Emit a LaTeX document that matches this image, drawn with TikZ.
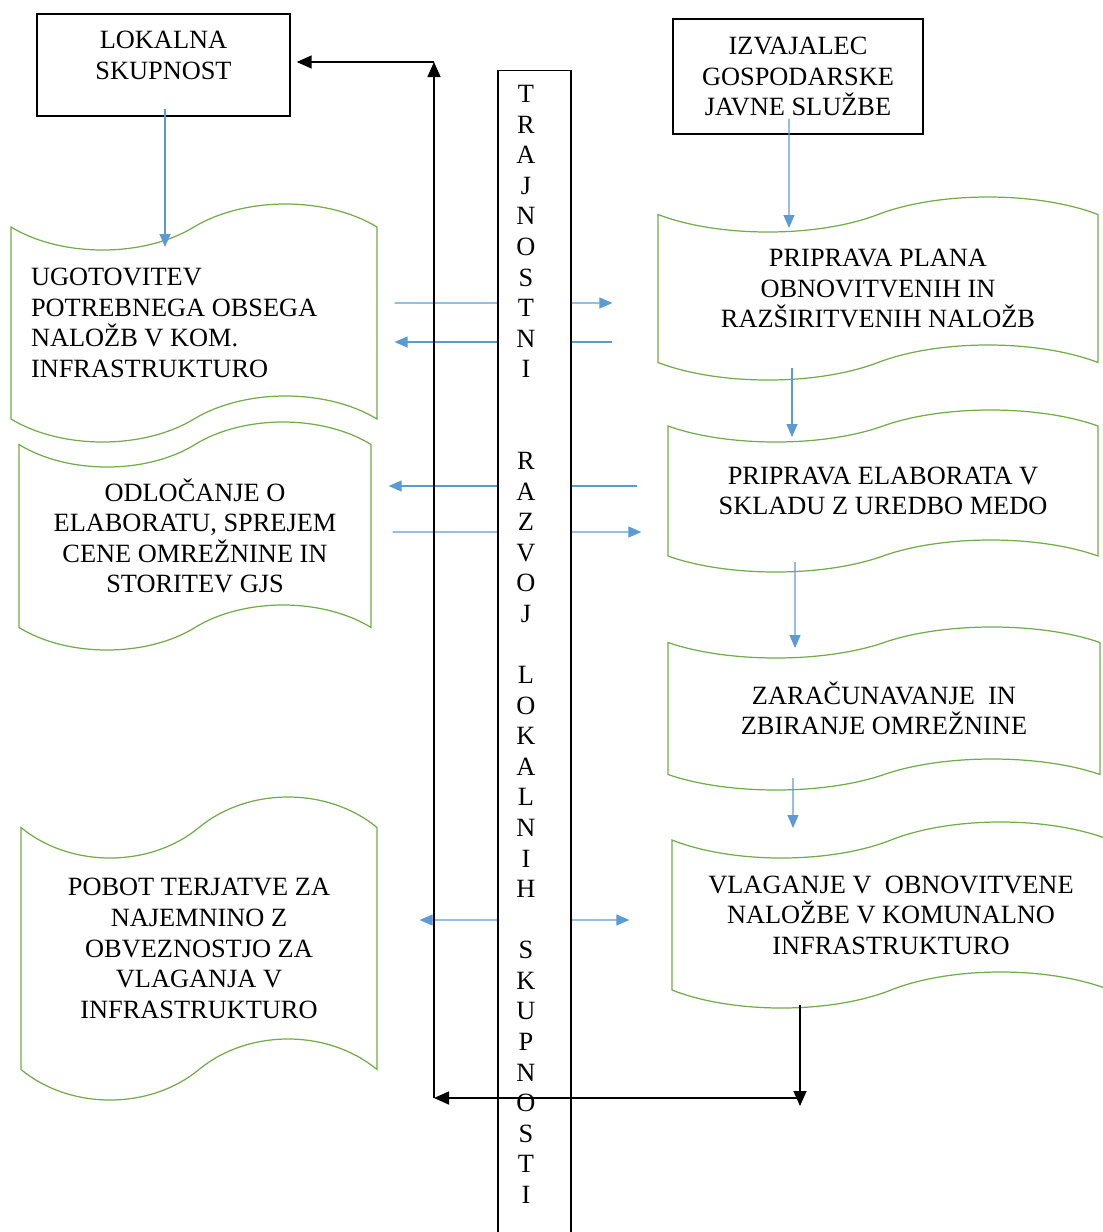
\documentclass[tikz,border=0pt]{standalone}
\usepackage{fontspec}
\setmainfont{Liberation Serif}
\usetikzlibrary{shapes.symbols,arrows.meta,calc}
\definecolor{flowblue}{HTML}{5B9BD5}
\definecolor{tapegreen}{HTML}{70AD47}
\begin{document}
\begin{tikzpicture}[>={Triangle[length=0.26cm,width=0.22cm]}]
\tikzstyle{Block} = [draw, line width=0.8pt, font=\fontsize{15}{17.4}\selectfont, align=center, inner sep=0]
\tikzstyle{Tape} = [draw=tapegreen, line width=0.7pt, shape=tape, font=\fontsize{15}{17.4}\selectfont, align=center, tape bend top=in and out, tape bend bottom=in and out]
\tikzstyle{Column} = [draw, line width=0.8pt, fill=white, minimum width=1.46cm, minimum height=23.6cm, anchor=north]
\tikzstyle{Letters} = [font=\fontsize{15}{17.4}\selectfont, align=center, inner sep=0, anchor=north]
\tikzstyle{Flow} = [draw=flowblue, line width=0.65pt, ->, >={Triangle[length=0.26cm,width=0.22cm]}, color=flowblue]
\tikzstyle{Link} = [draw=black, line width=0.9pt, -{Triangle[length=0.3cm,width=0.26cm]}]
\useasboundingbox (0,0) rectangle (22.06,-24.64);
\node [Block, minimum width=5.06cm, minimum height=2.04cm] (v1) at (3.27,-1.30) {LOKALNA\\SKUPNOST\\[-6pt]\mbox{}};
\node [Block, minimum width=5.0cm, minimum height=2.3cm] (v2) at (15.96,-1.53) {IZVAJALEC\\GOSPODARSKE\\JAVNE SLUŽBE};
\node [Tape, align=flush left, text width=6.52cm, minimum width=7.32cm, minimum height=4.76cm, tape bend height=0.92cm] (v5) at (3.88,-6.46) {UGOTOVITEV\\POTREBNEGA OBSEGA\\NALOŽB V KOM.\\INFRASTRUKTURO};
\node [Tape, minimum width=7.04cm, minimum height=4.56cm, tape bend height=0.9cm] (v6) at (3.90,-10.72) {ODLOČANJE O\\ELABORATU, SPREJEM\\CENE OMREŽNINE IN\\STORITEV GJS};
\node [Tape, minimum width=7.12cm, minimum height=6.06cm, tape bend height=1.22cm] (v7) at (3.98,-18.97) {POBOT TERJATVE ZA\\NAJEMNINO Z\\OBVEZNOSTJO ZA\\VLAGANJA V\\INFRASTRUKTURO};
\node [Tape, minimum width=8.8cm, minimum height=3.66cm, tape bend height=0.7cm] (v8) at (17.56,-5.77) {PRIPRAVA PLANA\\OBNOVITVENIH IN\\RAZŠIRITVENIH NALOŽB};
\node [Tape, minimum width=8.6cm, minimum height=3.24cm, tape bend height=0.64cm] (v9) at (17.66,-9.82) {PRIPRAVA ELABORATA V\\SKLADU Z UREDBO MEDO};
\node [Tape, minimum width=8.64cm, minimum height=3.26cm, tape bend height=0.62cm] (v10) at (17.68,-14.17) {ZARAČUNAVANJE\ \ IN\\ZBIRANJE OMREŽNINE};
\node [Tape, minimum width=8.76cm, minimum height=3.72cm, tape bend height=0.72cm] (v11) at (17.82,-18.3) {VLAGANJE V\ \ OBNOVITVENE\\NALOŽBE V KOMUNALNO\\INFRASTRUKTURO};
\coordinate (c1) at (16.0,-21.96);
\coordinate (c2) at (8.68,-21.96);
\coordinate (c3) at (8.68,-1.24);
% arrows across the column
\draw [Flow] ($(v5.east)+(0.34,0.40)$) -- ($(v8.west)+(-0.9,-0.29)$);
\draw [Flow] ($(v8.west)+(-0.9,-1.07)$) -- ($(v5.east)+(0.34,-0.38)$);
\draw [Flow] ($(v9.west)+(-0.6,0.1)$) -- ($(v6.east)+(0.34,1.0)$);
\draw [Flow] ($(v6.east)+(0.42,0.08)$) -- ($(v9.west)+(-0.52,-0.82)$);
\draw [Flow, <->] ($(v7.east)+(0.84,0.57)$) -- ($(v11.west)+(-0.84,-0.1)$);
\node [Column] (v3) at (10.69,-1.4) {};
\node [Letters] (v4) at (10.52,-1.70) {T\\R\\A\\J\\N\\O\\S\\T\\N\\I\\ \\ \\R\\A\\Z\\V\\O\\J\\ \\L\\O\\K\\A\\L\\N\\I\\H\\ \\S\\K\\U\\P\\N\\O\\S\\T\\I};
% steps
\draw [Flow] ($(v1.south)+(0.03,0.16)$) -- ($(v5.center)+(-0.58,1.52)$);
\draw [Flow] ($(v2.south)+(-0.18,0.32)$) -- ($(v8.center)+(-1.78,1.21)$);
\draw [Flow] ($(v8.center)+(-1.72,-1.59)$) -- ($(v9.center)+(-1.82,1.08)$);
\draw [Flow] ($(v9.center)+(-1.76,-1.42)$) -- ($(v10.center)+(-1.78,1.21)$);
\draw [Flow] ($(v10.center)+(-1.82,-1.39)$) -- ($(v11.center)+(-1.96,1.74)$);
% loop back
\draw [Link] ($(v11.center)+(-1.82,-1.8)$) -- ($(c1)+(0,-0.16)$);
\draw [Link] (c1) -- (c2);
\draw [Link] (c2) -- (c3);
\draw [Link, shorten >=0.12cm] (c3) -- (c3 -| v1.east);
\end{tikzpicture}
\end{document}
